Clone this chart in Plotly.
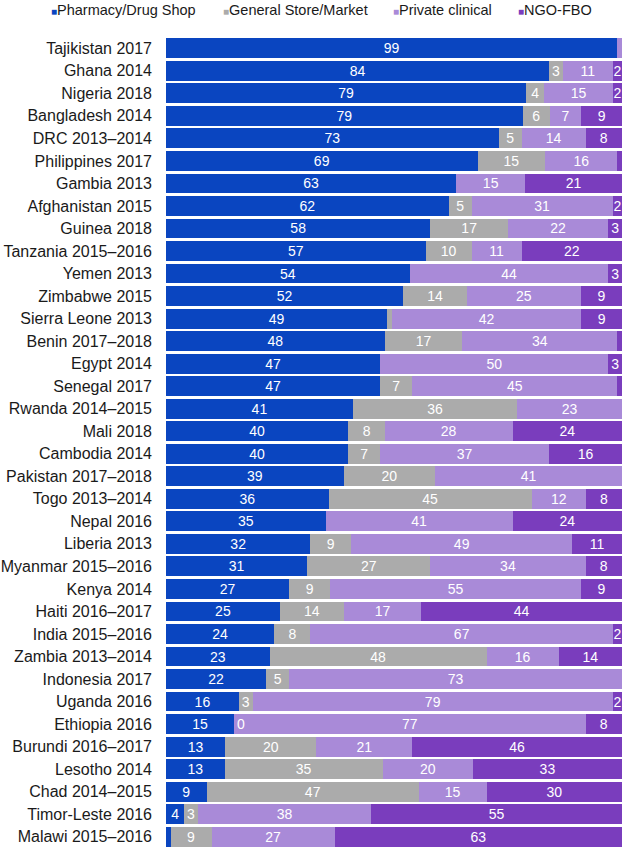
import plotly.graph_objects as go

countries = [
    "Tajikistan 2017", "Ghana 2014", "Nigeria 2018", "Bangladesh 2014",
    "DRC 2013–2014", "Philippines 2017", "Gambia 2013", "Afghanistan 2015",
    "Guinea 2018", "Tanzania 2015–2016", "Yemen 2013", "Zimbabwe 2015",
    "Sierra Leone 2013", "Benin 2017–2018", "Egypt 2014", "Senegal 2017",
    "Rwanda 2014–2015", "Mali 2018", "Cambodia 2014", "Pakistan 2017–2018",
    "Togo 2013–2014", "Nepal 2016", "Liberia 2013", "Myanmar 2015–2016",
    "Kenya 2014", "Haiti 2016–2017", "India 2015–2016", "Zambia 2013–2014",
    "Indonesia 2017", "Uganda 2016", "Ethiopia 2016", "Burundi 2016–2017",
    "Lesotho 2014", "Chad 2014–2015", "Timor-Leste 2016", "Malawi 2015–2016",
]

pharmacy = [99, 84, 79, 79, 73, 69, 63, 62, 58, 57, 54, 52, 49, 48, 47, 47, 41, 40,
            40, 39, 36, 35, 32, 31, 27, 25, 24, 23, 22, 16, 15, 13, 13, 9, 4, 1]
general_store = [0, 3, 4, 6, 5, 15, 0, 5, 17, 10, 0, 14, 1, 17, 0, 7, 36, 8,
                 7, 20, 45, 0, 9, 27, 9, 14, 8, 48, 5, 3, 0, 20, 35, 47, 3, 9]
private_clinical = [1, 11, 15, 7, 14, 16, 15, 31, 22, 11, 44, 25, 42, 34, 50, 45, 23, 28,
                    37, 41, 12, 41, 49, 34, 55, 17, 67, 16, 73, 79, 77, 21, 20, 15, 38, 27]
ngo_fbo = [0, 2, 2, 9, 8, 1, 21, 2, 3, 22, 3, 9, 9, 1, 3, 1, 0, 24,
           16, 0, 8, 24, 11, 8, 9, 44, 2, 14, 0, 2, 8, 46, 33, 30, 55, 63]

series_names = ["Pharmacy/Drug Shop", "General Store/Market", "Private clinical", "NGO-FBO"]
series_values = [pharmacy, general_store, private_clinical, ngo_fbo]
colors = ["#0a45c0", "#ababab", "#a98ad8", "#7a3dbd"]

W, H = 635, 853
M_L, M_R, M_T, M_B = 166, 13, 37, 5
FONT = "Liberation Sans"


def label(values):
    return [str(v) if v >= 2 else "" for v in values]


fig = go.Figure()

for name, values, color in zip(series_names, series_values, colors):
    fig.add_trace(
        go.Bar(
            y=countries,
            x=values,
            name=name,
            orientation="h",
            marker=dict(color=color, line=dict(width=0)),
            text=label(values),
            textposition="inside",
            insidetextanchor="middle",
            textangle=0,
            constraintext="none",
            textfont=dict(color="white", size=14, family=FONT),
            showlegend=False,
        )
    )

# Ethiopia shows a "0" for general store where the bar has no width
eth = countries.index("Ethiopia 2016")
eth_total = pharmacy[eth] + general_store[eth] + private_clinical[eth] + ngo_fbo[eth]
annotations = [
    dict(
        x=pharmacy[eth] / eth_total * 100,
        y=countries[eth],
        xref="x",
        yref="y",
        text="0",
        showarrow=False,
        xanchor="left",
        xshift=1,
        font=dict(color="white", size=14, family=FONT),
    )
]

# compact legend row: small square + name, positions in pixels
plot_w = W - M_L - M_R
plot_h = H - M_T - M_B
legend_px = [49, 221, 391, 516]
for name, color, px in zip(series_names, colors, legend_px):
    annotations.append(
        dict(
            x=(px - M_L) / plot_w,
            y=1 + (M_T - 10) / plot_h,
            xref="paper",
            yref="paper",
            yanchor="middle",
            xanchor="left",
            showarrow=False,
            text=f"<span style='color:{color};font-size:10px'>■</span>{name}",
            font=dict(size=14.5, color="#1a1a1a", family=FONT),
        )
    )

fig.update_layout(
    barmode="stack",
    barnorm="percent",
    bargap=0.12,
    width=W,
    height=H,
    margin=dict(l=M_L, r=M_R, t=M_T, b=M_B),
    plot_bgcolor="white",
    paper_bgcolor="white",
    font=dict(family=FONT, color="#1a1a1a"),
    xaxis=dict(range=[0, 100], visible=False, fixedrange=True, automargin=False),
    yaxis=dict(
        categoryorder="array",
        categoryarray=countries,
        autorange="reversed",
        tickfont=dict(size=16, color="#1a1a1a"),
        ticks="",
        showgrid=False,
        automargin=False,
        ticklabelstandoff=13,
    ),
    annotations=annotations,
)

fig.write_html(
    "out.html",
    config={"displayModeBar": False},
    post_script="document.body.style.margin='0';",
)
